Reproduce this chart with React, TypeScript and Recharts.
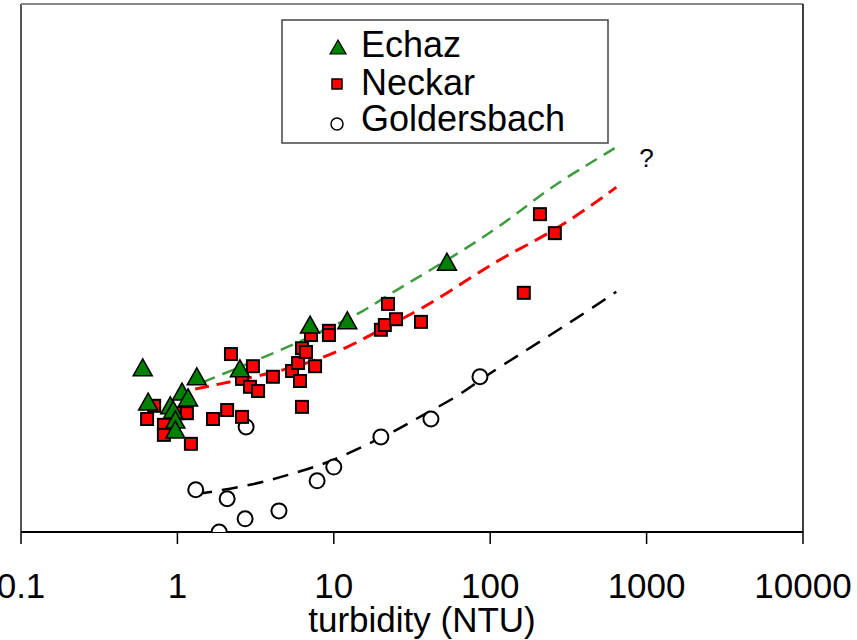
import React from 'react';
import {
  ComposedChart,
  Scatter,
  Line,
  XAxis,
  YAxis,
  ReferenceLine,
  ReferenceDot,
  Legend,
} from 'recharts';

const FONT = '"Liberation Sans", Arial, Helvetica, sans-serif';

// ---- axis / text ----
const xTicks = [0.1, 1, 10, 100, 1000, 10000];
const xTickLabels = ['0.1', '1', '10', '100', '1000', '10000'];
const xTitle = 'turbidity (NTU)';
const seriesNames = ['Echaz', 'Neckar', 'Goldersbach'];
const questionMark = '?';
const questionX = 1000;
const questionY = 70.8;

// ---- Echaz (green triangles) ----
const echazX = [0.6, 0.65, 0.9, 0.94, 0.97, 0.97, 1.07, 1.17, 1.33, 2.51, 7.05, 12.2, 52.9];
const echazY = [31.1, 24.6, 23.9, 23.1, 21.2, 19.3, 26.5, 25.4, 29.4, 30.9, 39.2, 40.0, 51.1];

// ---- Neckar (red squares) ----
const neckarX = [
  0.64, 0.71, 0.82, 0.82, 1.01, 1.15, 1.22, 1.69, 2.08, 2.2, 2.59, 2.59, 2.91, 3.04, 3.28, 4.08,
  5.41, 5.91, 6.08, 6.26, 6.64, 6.26, 7.59, 7.15, 9.31, 9.31, 20.0, 21.2, 22.2, 25.0, 36.1, 164,
  208, 259,
];
const neckarY = [
  21.4, 23.9, 20.3, 18.4, 22.5, 22.5, 16.7, 21.4, 23.1, 33.7, 29.0, 21.8, 27.5, 31.4, 26.7, 29.4,
  30.5, 32.0, 28.6, 34.8, 34.1, 23.7, 31.4, 37.3, 38.1, 37.3, 38.3, 39.2, 43.2, 40.3, 39.8, 45.3,
  60.2, 56.6,
];

// ---- Goldersbach (open circles) ----
const goldX = [1.31, 1.85, 2.08, 2.71, 2.75, 4.46, 7.82, 10.0, 20.0, 41.8, 86.0];
const goldY = [8.0, 0.0, 6.3, 2.5, 19.9, 4.0, 9.7, 12.3, 18.0, 21.4, 29.4];

// ---- dashed fit curves ----
const greenFitX = [1.46, 2.91, 6.08, 9.46, 15.4, 22.2, 30.7, 53.0, 116, 242, 417, 640];
const greenFitY = [28.4, 32.0, 36.0, 38.8, 41.7, 44.9, 47.3, 51.5, 57.8, 65.3, 69.5, 72.9];

const redFitX = [1.3, 2.51, 6.08, 12.5, 20.6, 35.6, 71.1, 124, 252, 527, 640];
const redFitY = [27.1, 28.8, 31.3, 35.0, 38.6, 42.0, 47.7, 52.3, 56.8, 63.4, 65.3];

const blackFitX = [1.32, 2.91, 6.35, 9.46, 14.7, 25.4, 37.2, 61.6, 89.8, 116, 359, 640];
const blackFitY = [7.2, 8.7, 11.6, 13.3, 15.9, 19.3, 22.2, 25.6, 29.2, 31.3, 40.5, 45.5];

const zip = (xs: number[], ys: number[]) => xs.map((x, i) => ({ x, y: ys[i] }));

const echaz = zip(echazX, echazY);
const neckar = zip(neckarX, neckarY);
const gold = zip(goldX, goldY);
const greenFit = zip(greenFitX, greenFitY);
const redFit = zip(redFitX, redFitY);
const blackFit = zip(blackFitX, blackFitY);

const GREEN_FILL = '#008000';
const GREEN_LINE = '#3d9c3d';
const RED = '#ff0000';

const Triangle = (p: any) => {
  const { cx, cy } = p;
  if (cx == null || cy == null) return null;
  return (
    <polygon
      points={`${cx},${cy - 9} ${cx - 9.5},${cy + 8} ${cx + 9.5},${cy + 8}`}
      fill={GREEN_FILL}
      stroke="#000"
      strokeWidth={1.5}
      strokeLinejoin="miter"
    />
  );
};

const Square = (p: any) => {
  const { cx, cy } = p;
  if (cx == null || cy == null) return null;
  return <rect x={cx - 6} y={cy - 6} width={12} height={12} fill={RED} stroke="#000" strokeWidth={2} />;
};

const Ring = (p: any) => {
  const { cx, cy } = p;
  if (cx == null || cy == null) return null;
  return <circle cx={cx} cy={cy} r={7.5} fill="#fff" stroke="#000" strokeWidth={2} />;
};

const Tick = (props: any) => {
  const { x, y, payload } = props;
  const i = xTicks.indexOf(payload.value);
  return (
    <text x={x} y={y + 52} textAnchor="middle" fontSize={35} fontFamily={FONT} fill="#000">
      {i >= 0 ? xTickLabels[i] : String(payload.value)}
    </text>
  );
};

const AxisTitle = (props: any) => {
  const vb = props.viewBox || { x: 21, y: 532, width: 782, height: 108 };
  return (
    <text
      x={vb.x + vb.width / 2 + 10}
      y={vb.y + 100}
      textAnchor="middle"
      fontSize={35}
      fontFamily={FONT}
      fill="#000"
    >
      {xTitle}
    </text>
  );
};

const LegendBox = () => (
  <svg width={328} height={126} style={{ display: 'block', overflow: 'visible' }}>
    <rect x={1} y={1} width={326} height={123} fill="#fff" stroke="#444" strokeWidth={1.5} />
    <polygon points="57,21 49,35 65,35" fill={GREEN_FILL} stroke="#000" strokeWidth={1.2} />
    <rect x={51} y={60} width={10} height={10} fill={RED} stroke="#000" strokeWidth={1.5} />
    <circle cx={56} cy={105} r={6} fill="#fff" stroke="#000" strokeWidth={1.5} />
    <text x={80} y={38} fontSize={36} fontFamily={FONT} fill="#000">{seriesNames[0]}</text>
    <text x={80} y={76} fontSize={36} fontFamily={FONT} fill="#000">{seriesNames[1]}</text>
    <text x={80} y={112} fontSize={36} fontFamily={FONT} fill="#000">{seriesNames[2]}</text>
  </svg>
);

export default function App() {
  return (
    <div style={{ position: 'absolute', left: 0, top: 0, background: '#fff' }}>
      <ComposedChart
        width={857}
        height={640}
        margin={{ top: 4, right: 54, bottom: 0, left: 21 }}
        style={{ fontFamily: FONT }}
      >
        <XAxis
          dataKey="x"
          type="number"
          scale="log"
          domain={[0.1, 10000]}
          ticks={xTicks}
          allowDataOverflow
          height={108}
          tickSize={12}
          tickMargin={2}
          axisLine={{ stroke: '#000', strokeWidth: 2 }}
          tickLine={{ stroke: '#000', strokeWidth: 1.5 }}
          tick={<Tick />}
          interval={0}
          label={AxisTitle}
        />
        <YAxis dataKey="y" type="number" domain={[0, 100]} hide allowDataOverflow />
        <ReferenceLine x={0.1} stroke="#555" strokeWidth={2} />
        <ReferenceLine y={100} stroke="#888" strokeWidth={2} />
        <ReferenceLine x={10000} stroke="#000" strokeWidth={1.5} />
        <Legend
          content={<LegendBox />}
          layout="horizontal"
          verticalAlign="middle"
          align="center"
          wrapperStyle={{ position: 'absolute', left: 281, top: 19, width: 328, height: 126 }}
        />
        <Scatter name={seriesNames[2]} data={gold} shape={Ring} isAnimationActive={false} />
        <Scatter name={seriesNames[1]} data={neckar} shape={Square} isAnimationActive={false} />
        <Scatter name={seriesNames[0]} data={echaz} shape={Triangle} isAnimationActive={false} />
        <Line
          data={greenFit}
          dataKey="y"
          type="basis"
          stroke={GREEN_LINE}
          strokeWidth={2.5}
          strokeDasharray="13 8"
          dot={false}
          activeDot={false}
          legendType="none"
          isAnimationActive={false}
        />
        <Line
          data={redFit}
          dataKey="y"
          type="basis"
          stroke={RED}
          strokeWidth={3}
          strokeDasharray="14 8"
          dot={false}
          activeDot={false}
          legendType="none"
          isAnimationActive={false}
        />
        <Line
          data={blackFit}
          dataKey="y"
          type="basis"
          stroke="#000"
          strokeWidth={2.5}
          strokeDasharray="16 10"
          dot={false}
          activeDot={false}
          legendType="none"
          isAnimationActive={false}
        />
        <ReferenceDot
          x={questionX}
          y={questionY}
          r={0}
          fill="none"
          stroke="none"
          label={{ value: questionMark, position: 'center', fontSize: 26, fill: '#000', fontFamily: FONT }}
        />
      </ComposedChart>
    </div>
  );
}
